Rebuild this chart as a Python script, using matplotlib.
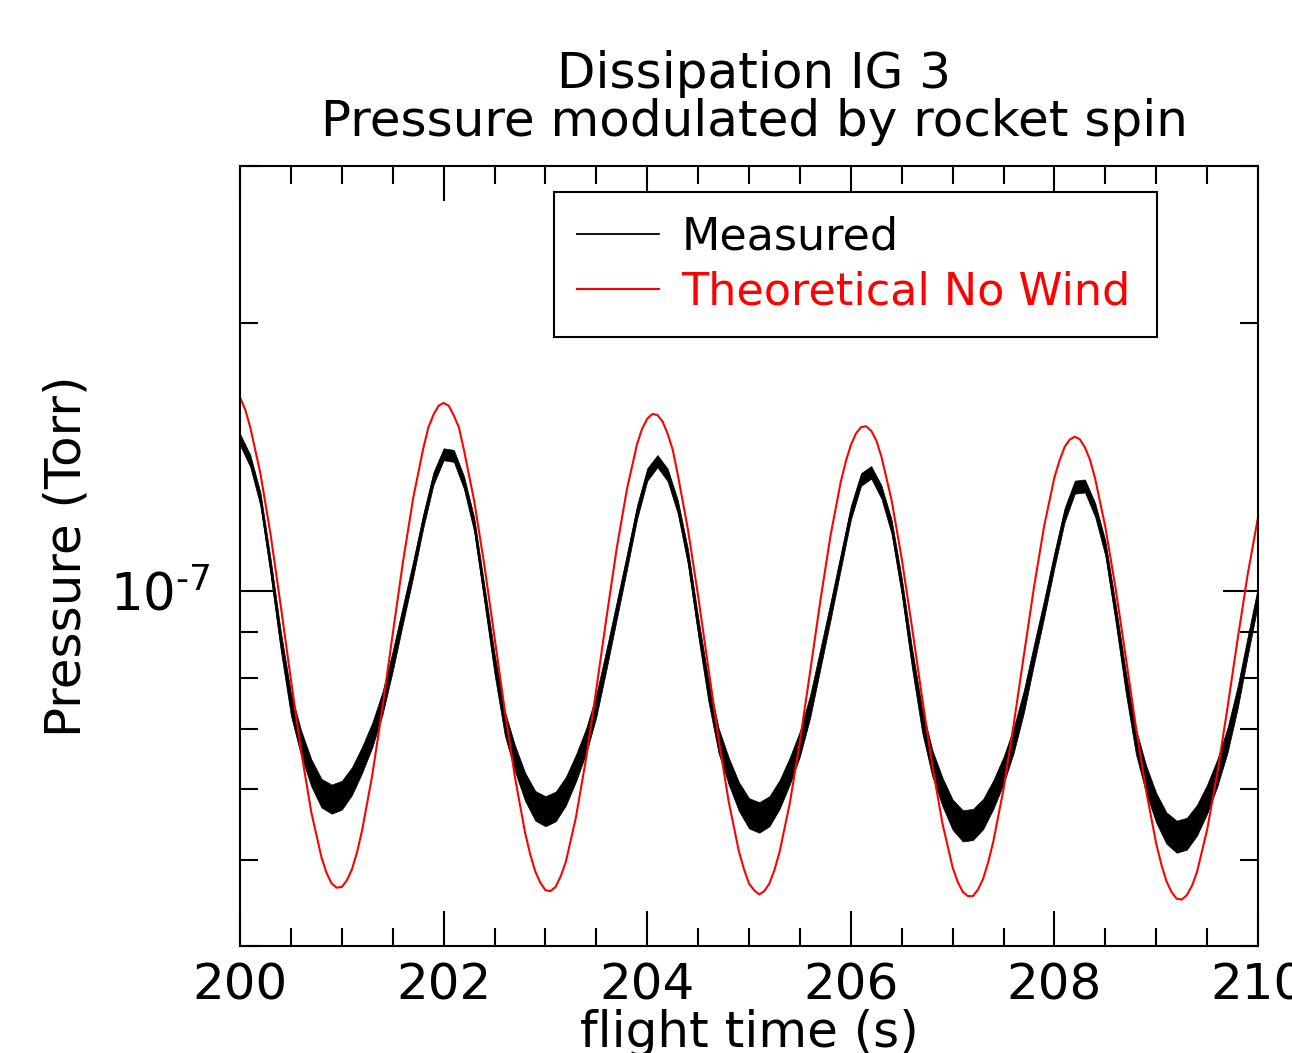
import numpy as np
import matplotlib
matplotlib.use("Agg")
from matplotlib import pyplot as plt
from matplotlib.ticker import FixedLocator, LogLocator, MultipleLocator, NullFormatter

# sample times (s), one every 0.1 s
flight_time = np.linspace(200.0, 210.0, 101)

# pressures in units of 1e-7 Torr
measured = [
    1.480, 1.401, 1.269, 1.066, 0.880, 0.747, 0.676, 0.626, 0.594, 0.585,
    0.591, 0.613, 0.648, 0.691, 0.750, 0.836, 0.942, 1.059, 1.200, 1.339,
    1.425, 1.419, 1.324, 1.188, 0.994, 0.829, 0.712, 0.650, 0.604, 0.575,
    0.567, 0.574, 0.597, 0.634, 0.680, 0.745, 0.840, 0.952, 1.079, 1.227,
    1.352, 1.400, 1.351, 1.244, 1.093, 0.914, 0.775, 0.681, 0.629, 0.589,
    0.564, 0.558, 0.567, 0.592, 0.629, 0.675, 0.743, 0.840, 0.950, 1.079,
    1.225, 1.335, 1.360, 1.293, 1.182, 1.013, 0.843, 0.717, 0.642, 0.596,
    0.562, 0.546, 0.548, 0.563, 0.592, 0.630, 0.681, 0.753, 0.851, 0.958,
    1.085, 1.218, 1.309, 1.313, 1.234, 1.118, 0.947, 0.792, 0.679, 0.616,
    0.572, 0.543, 0.531, 0.535, 0.554, 0.585, 0.626, 0.681, 0.761, 0.870,
    0.990,
]
theoretical = [
    1.650, 1.528, 1.356, 1.158, 0.963, 0.795, 0.662, 0.565, 0.503, 0.470,
    0.466, 0.488, 0.540, 0.623, 0.742, 0.896, 1.078, 1.271, 1.447, 1.578,
    1.627, 1.575, 1.440, 1.263, 1.070, 0.888, 0.736, 0.619, 0.536, 0.485,
    0.462, 0.466, 0.497, 0.558, 0.650, 0.777, 0.935, 1.117, 1.301, 1.463,
    1.562, 1.577, 1.503, 1.352, 1.173, 0.988, 0.821, 0.684, 0.581, 0.511,
    0.470, 0.457, 0.470, 0.510, 0.578, 0.679, 0.812, 0.975, 1.154, 1.325,
    1.459, 1.528, 1.514, 1.417, 1.266, 1.088, 0.913, 0.760, 0.638, 0.549,
    0.490, 0.460, 0.455, 0.476, 0.524, 0.600, 0.709, 0.848, 1.012, 1.185,
    1.342, 1.452, 1.491, 1.450, 1.338, 1.181, 1.009, 0.845, 0.705, 0.598,
    0.521, 0.473, 0.452, 0.456, 0.484, 0.540, 0.625, 0.740, 0.884, 1.047,
    1.211,
]
# extra readings of the theoretical curve around its peaks and dips
theory_extra_time = [
    200.05, 200.85, 200.95, 201.05, 201.15, 201.85, 201.95, 202.05, 202.15,
    202.85, 202.95, 203.05, 203.15, 203.95, 204.05, 204.15, 204.25,
    204.95, 205.05, 205.15, 205.25, 205.95, 206.05, 206.15, 206.25,
    207.05, 207.15, 207.25, 207.35, 208.05, 208.15, 208.25, 208.35,
    209.05, 209.15, 209.25, 209.35,
]
theory_extra = [
    1.600, 0.483, 0.465, 0.474, 0.510, 1.527, 1.615, 1.615, 1.527,
    0.507, 0.471, 0.461, 0.479, 1.522, 1.581, 1.551, 1.442,
    0.488, 0.462, 0.461, 0.487, 1.398, 1.503, 1.532, 1.477,
    0.472, 0.455, 0.463, 0.497, 1.402, 1.480, 1.481, 1.404,
    0.494, 0.460, 0.451, 0.467,
]
measured_noise = 0.022  # half height of the noisy band, 1e-7 Torr

title_lines = ["Dissipation IG 3", "Pressure modulated by rocket spin"]
x_ticks = [200, 202, 204, 206, 208, 210]

unit = 1e-7
meas = np.array(measured) * unit
noise = measured_noise * unit

t_theo = np.concatenate([flight_time, theory_extra_time])
p_theo = np.concatenate([theoretical, theory_extra]) * unit
order = np.argsort(t_theo)
t_theo, p_theo = t_theo[order], p_theo[order]

fig = plt.figure(figsize=(12.92, 10.53), dpi=100)
ax = fig.add_axes([0.1858, 0.1016, 0.7879, 0.7407])

ax.fill_between(flight_time, meas - noise, meas + noise, color="black", lw=0.5)
ax.plot(flight_time, meas, color="black", lw=1.3, label="Measured")
ax.plot(t_theo, p_theo, color="red", lw=1.5, label="Theoretical No Wind")

ax.set_yscale("log")
ax.set_xlim(200, 210)
ax.set_ylim(4e-8, 3e-7)
ax.set_xticks(x_ticks)
ax.xaxis.set_minor_locator(MultipleLocator(0.5))
ax.yaxis.set_major_locator(FixedLocator([1e-7]))
ax.set_yticklabels([r"$10^{\text{-}7}$"])
ax.yaxis.set_minor_locator(LogLocator(base=10.0, subs=np.arange(2, 10), numticks=20))
ax.yaxis.set_minor_formatter(NullFormatter())

ax.tick_params(which="both", direction="in", top=True, right=True, width=1.5)
ax.tick_params(which="major", length=25)
ax.tick_params(which="minor", length=13)
ax.tick_params(axis="x", labelsize=36, pad=11)
ax.tick_params(axis="y", labelsize=37, pad=21)
for s in ax.spines.values():
    s.set_linewidth(1.5)

ax.set_xlabel("flight time (s)", fontsize=36, labelpad=0)
ax.set_ylabel("Pressure (Torr)", fontsize=36, labelpad=14)
ax.set_title("\n".join(title_lines), fontsize=36, pad=22, linespacing=1.0, x=0.505)

leg = ax.legend(loc="upper left", bbox_to_anchor=(0.3084, 0.0, 0.5923, 0.9667),
                mode="expand", borderaxespad=0, fontsize=32, fancybox=False,
                edgecolor="black", framealpha=1, handlelength=1.85,
                handletextpad=0.5, labelspacing=0.28, borderpad=0.52,
                labelcolor="linecolor")
leg.get_frame().set_linewidth(1.5)

plt.savefig("out.png", dpi=100)
